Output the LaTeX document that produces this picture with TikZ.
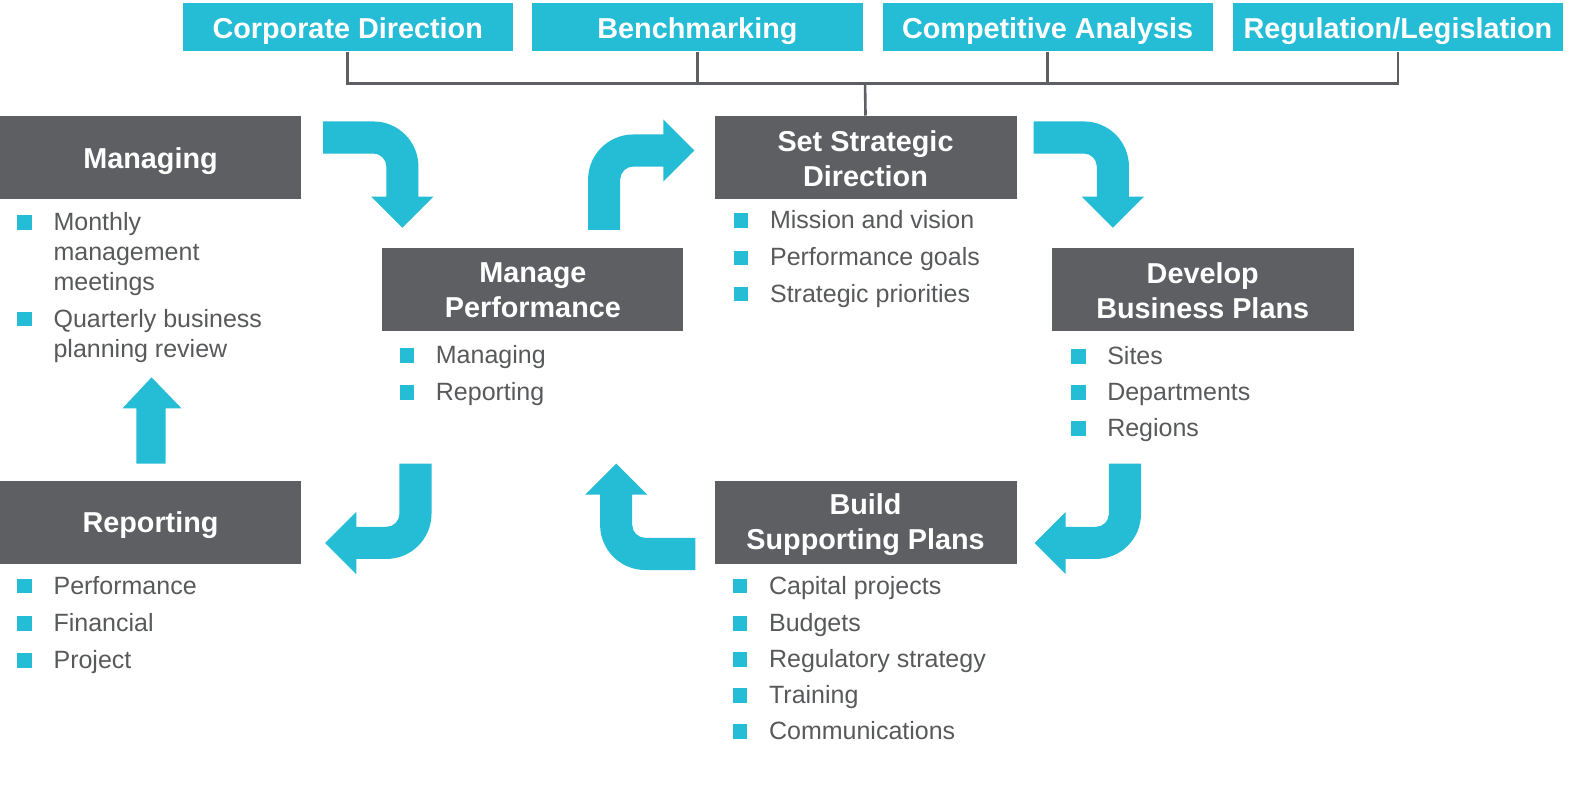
\documentclass[tikz,border=0pt]{standalone}
\usepackage{fontspec}
\setmainfont{Liberation Sans}
\definecolor{cyanc}{HTML}{25BCD6}
\definecolor{darkbox}{HTML}{5E5F63}
\definecolor{txtgray}{HTML}{58595B}
\tikzset{
  topbox/.style={fill=cyanc, text=white, minimum width=164.5bp, minimum height=24bp, inner sep=0pt,
    text height=11bp, text depth=0pt, font=\fontsize{14.4}{17.5}\selectfont\bfseries},
  headbox/.style={fill=darkbox, minimum width=150bp, minimum height=41.5bp, inner sep=0pt},
  headtxt/.style={text=white, inner sep=0pt, align=center, font=\fontsize{14.4}{17.5}\selectfont\bfseries},
  itm/.style={anchor=base west, inner sep=0pt, text=txtgray, font=\fontsize{12.5}{14.75}\selectfont},
  bul/.style={fill=cyanc, minimum size=7.3bp, inner sep=0pt},
  conn/.style={draw=darkbox, line width=1.3bp},
  bend/.pic={\fill[cyanc] (-50,-45) -- (0,-45) .. controls (24.85,-45) and (45,-24.85) .. (45,0)
     -- (45,30) -- (60,30) -- (29,61) -- (-2,30) -- (13,30) -- (13,0)
     .. controls (13,-7.18) and (7.18,-13) .. (0,-13) -- (-50,-13) -- cycle;}
}
\newcommand\bitem[4]{%
  \node[itm] (#1) at (#2,#3) {#4};
  \node[bul] (#1b) at ([xshift=-14.25bp,yshift=4bp]#1.base west) {};}
\begin{document}
\begin{tikzpicture}[x=0.5bp,y=-0.5bp]
\useasboundingbox (0,0) rectangle (1566.5,786.2);
% top boxes
\node[topbox] (cd) at (346.5,27) {Corporate Direction};
\node[topbox] (bm) at (695,27) {Benchmarking};
\node[topbox] (ca) at (1044,27) {Competitive Analysis};
\node[topbox] (rl) at (1393,27) {Regulation/Legislation};
% heading boxes
\node[headbox] (mg) at (150,157) {};
\node[headtxt, text height=10.5bp, text depth=0pt] (mgt) at (mg.center) {Managing};
\node[headbox] (mp) at (531,288.5) {};
\node[headtxt] (mpt) at ([yshift=-0.5bp]mp.center) {Manage\\Performance};
\node[headbox, minimum width=150.5bp] (ssd) at (862.5,157) {};
\node[headtxt] (ssdt) at ([yshift=-0.5bp]ssd.center) {Set Strategic\\Direction};
\node[headbox, minimum width=150.5bp] (dbp) at (1198.5,288.5) {};
\node[headtxt] (dbpt) at ([yshift=-0.5bp]dbp.center) {Develop\\Business Plans};
\node[headbox, minimum width=150.5bp] (bsp) at (862.5,520.5) {};
\node[headtxt] (bspt) at ([yshift=-1bp]bsp.center) {Build\\Supporting Plans};
\node[headbox] (rep) at (150,520.5) {};
\node[headtxt, text height=10.5bp, text depth=0pt] (rept) at (rep.center) {Reporting};
% connectors
\coordinate (bus) at (862,83);
\draw[conn] (cd.south) |- (bus) -| (rl.south);
\draw[conn] (bm.south) -- (bm.south |- bus);
\draw[conn] (ca.south) -- (ca.south |- bus);
\draw[conn] (bus) -- (ssd.north);
% lists
\bitem{m1}{53}{230}{Monthly}
\node[itm] (m1a) at (53,260) {management};
\node[itm] (m1c) at (53,289) {meetings};
\bitem{m2}{53}{326}{Quarterly business}
\node[itm] (m2a) at (53,356) {planning review};
\bitem{p1}{434}{362}{Managing}
\bitem{p2}{434}{399}{Reporting}
\bitem{s1}{767}{228}{Mission and vision}
\bitem{s2}{767}{265}{Performance goals}
\bitem{s3}{767}{301}{Strategic priorities}
\bitem{d1}{1103}{363}{Sites}
\bitem{d2}{1103}{399}{Departments}
\bitem{d3}{1103}{435}{Regions}
\bitem{b1}{766}{592}{Capital projects}
\bitem{b2}{766}{629}{Budgets}
\bitem{b3}{766}{665}{Regulatory strategy}
\bitem{b4}{766}{701}{Training}
\bitem{b5}{766}{737}{Communications}
\bitem{r1}{53}{592}{Performance}
\bitem{r2}{53}{629}{Financial}
\bitem{r3}{53}{666}{Project}
% block arrows
\pic at (372,166) {bend};
\pic[rotate=90] at (631,179) {bend};
\pic at (1080,166) {bend};
\pic[rotate=-90] at (1092,512) {bend};
\pic[rotate=180] at (643,523) {bend};
\pic[rotate=-90] at (385,512) {bend};
\fill[cyanc] (136,462) -- (136,407) -- (122,407) -- (151,376) -- (181,407) -- (165,407) -- (165,462) -- cycle;
\end{tikzpicture}
\end{document}
